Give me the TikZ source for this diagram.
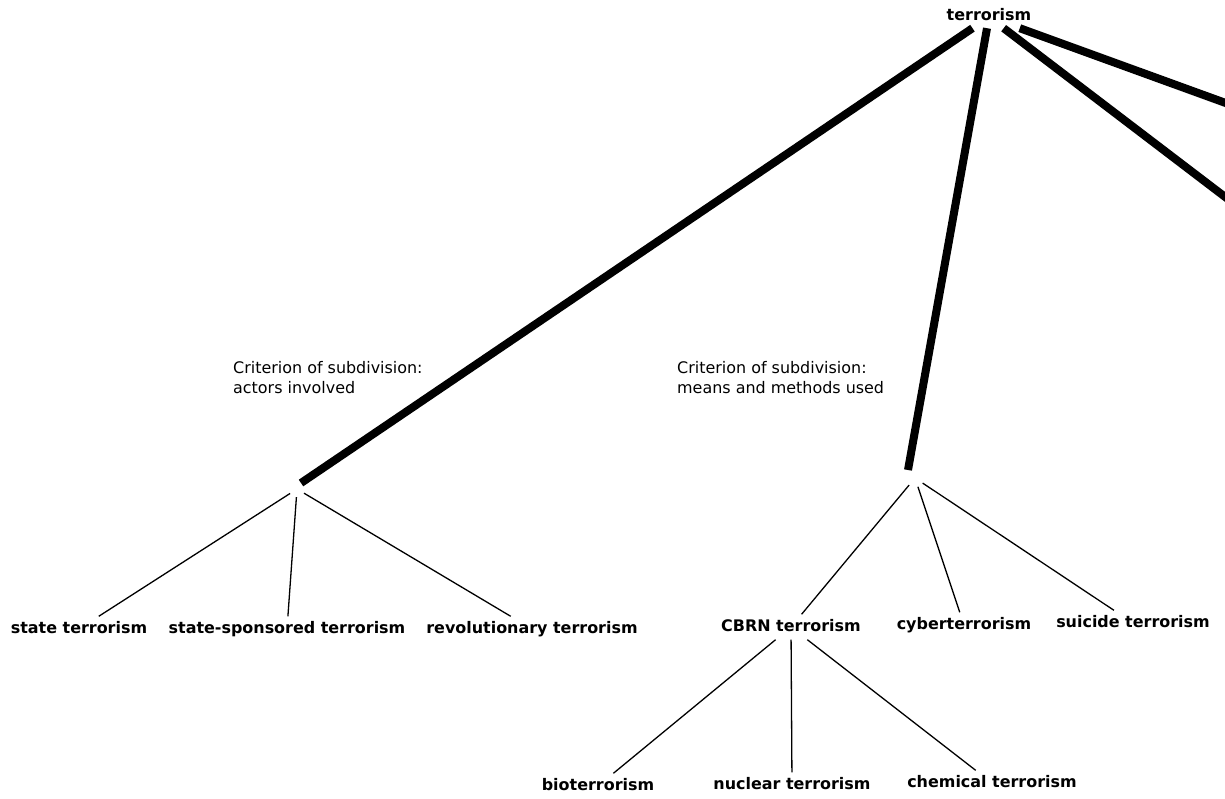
\documentclass[tikz,border=0pt]{standalone}
\usepackage{fontspec}
\setmainfont{DejaVu Sans}
\begin{document}
\begin{tikzpicture}[x=1bp,y=-1bp,
  lbl/.style={font=\fontsize{16}{19}\selectfont\bfseries, text height=12bp, text depth=4bp, inner xsep=2bp, inner ysep=4.5bp},
  crit/.style={font=\fontsize{16}{20.5}\selectfont, align=left, inner sep=0pt, anchor=north west},
  apex/.style={circle, inner sep=0pt, minimum size=#1},
  bigedge/.style={line width=8bp},
  smalledge/.style={line width=1.3bp}]
\clip (0,0) rectangle (1225,799);
% root
\node[lbl, inner ysep=3bp] (root) at (989,17) {terrorism};
\coordinate (e1) at (301,483);
\coordinate (e2) at (908,470);
\coordinate (e3) at (1300,254);
\coordinate (e4) at (1300,130);
\draw[bigedge] (root) -- (e1);
\draw[bigedge] (root) -- (e2);
\draw[bigedge] (root) -- (e3);
\draw[bigedge] (root) -- (e4);
% criteria
\node[crit] (c1) at (233,361) {Criterion of subdivision:\\actors involved};
\node[crit] (c2) at (677,361) {Criterion of subdivision:\\means and methods used};
% left subtree
\node[apex=16bp] (p1) at (297,489) {};
\node[lbl] (st) at (79,629) {state terrorism};
\node[lbl] (ss) at (287,629) {state-sponsored terrorism};
\node[lbl] (rv) at (532,629) {revolutionary terrorism};
\draw[smalledge] (p1) -- (st);
\draw[smalledge] (p1) -- (ss);
\draw[smalledge] (p1) -- (rv);
% right subtree
\node[apex=18bp] (p2) at (915,478) {};
\node[lbl] (cb) at (791,627) {CBRN terrorism};
\node[lbl] (cy) at (964,625) {cyberterrorism};
\node[lbl] (su) at (1133,623) {suicide terrorism};
\draw[smalledge] (p2) -- (cb);
\draw[smalledge] (p2) -- (cy);
\draw[smalledge] (p2) -- (su);
% CBRN subtree
\node[lbl] (bi) at (598,786) {bioterrorism};
\node[lbl] (nu) at (792,785) {nuclear terrorism};
\node[lbl] (ch) at (992,783) {chemical terrorism};
\draw[smalledge] (cb) -- (bi);
\draw[smalledge] (cb) -- (nu);
\draw[smalledge] (cb) -- (ch);
\end{tikzpicture}
\end{document}
